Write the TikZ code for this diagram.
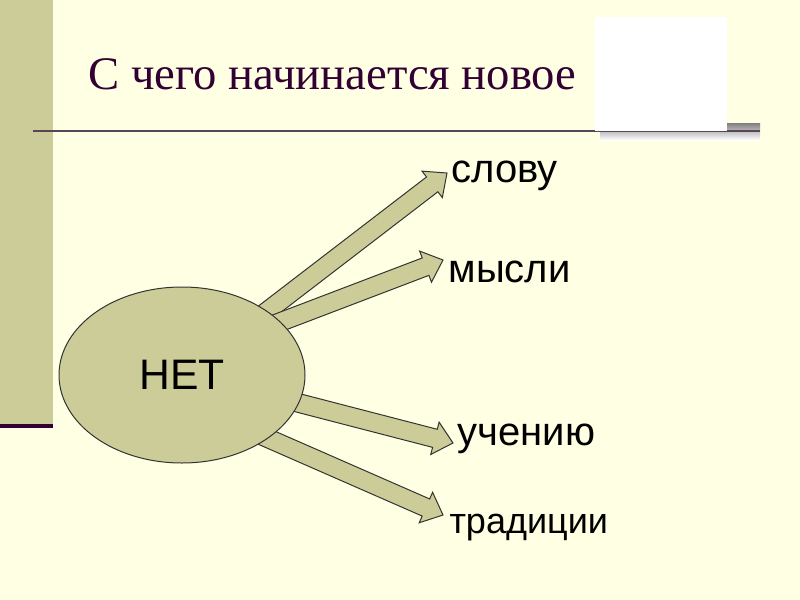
\documentclass[tikz,border=0pt]{standalone}
\usepackage{fontspec}
\setmainfont{Liberation Serif}
\newfontfamily\labelfont{Liberation Sans}
\usetikzlibrary{calc,shapes.geometric}

\definecolor{paper}{RGB}{255,255,227}
\definecolor{khaki}{RGB}{204,204,153}
\definecolor{plum}{RGB}{51,0,51}
\definecolor{rulegray}{RGB}{88,70,88}
\definecolor{shade}{RGB}{178,178,178}
\definecolor{edge}{RGB}{51,51,51}

\tikzset{every picture/.style={line width=0.75pt}}
\tikzset{
  blockarr/.style={draw=edge, fill=khaki, line join=miter},
  word/.style={anchor=base west, inner sep=0pt, font=\labelfont\fontsize{30}{36}\selectfont},
}

% block arrow from #1 (hidden under the ellipse) to the tip #2
\newcommand{\blockarrow}[2]{%
  \coordinate (#2-b) at ($(#2)!14pt!(#1)$);
  \draw [blockarr] ($(#1)!7pt!90:(#2)$) -- ($(#2-b)!7pt!90:(#2)$) -- ($(#2-b)!12.5pt!90:(#2)$) -- (#2)
    -- ($(#2-b)!12.5pt!-90:(#2)$) -- ($(#2-b)!7pt!-90:(#2)$) -- ($(#1)!7pt!-90:(#2)$) -- cycle;
}

\begin{document}
\begin{tikzpicture}[x=0.75pt,y=0.75pt,yscale=-1,xscale=1]

\useasboundingbox (0,0) rectangle (800,600);
\fill [paper] (0,0) rectangle (800,600);
\fill [khaki] (0,0) rectangle (53,424);
\fill [plum] (0,424) rectangle (53,428);
\fill [shade] (600,123) rectangle (760,140);
\draw [rulegray, line width=1.5pt] (33,130.5) -- (760,130.5);
\fill [white] (595,17) rectangle (727,131);

\node [anchor=base west, inner sep=0pt, text=plum, font=\fontsize{35}{42}\selectfont] (title) at (88,89) {С чего начинается новое};

\coordinate (s1) at (236,335);
\coordinate (s2) at (241,337);
\coordinate (s3) at (260,393);
\coordinate (s4) at (233,423);
\coordinate (t1) at (447,173);
\coordinate (t2) at (443,260);
\coordinate (t3) at (453,443);
\coordinate (t4) at (443,515);

\blockarrow{s1}{t1}
\blockarrow{s2}{t2}
\blockarrow{s3}{t3}
\blockarrow{s4}{t4}

\node [ellipse, draw=edge, fill=khaki, minimum width=184.5pt, minimum height=132pt, inner sep=0pt,
  font=\labelfont\fontsize{32}{38}\selectfont] (net) at (182,375) {НЕТ};

\node [word] (slovu) at (451,182) {слову};
\node [word] (mysli) at (448,282) {мысли};
\node [word] (ucheniyu) at (457,445) {учению};
\node [word, font=\labelfont\fontsize{27}{32}\selectfont] (tradicii) at (449,533) {традиции};

\end{tikzpicture}
\end{document}
